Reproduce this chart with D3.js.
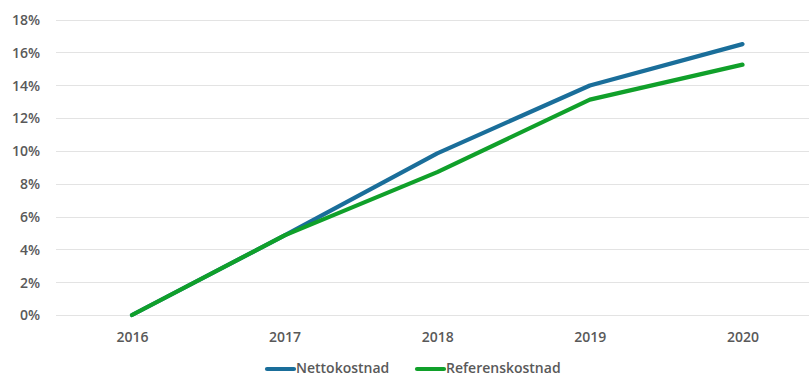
<!DOCTYPE html>
<html><head><meta charset="utf-8">
<script src="https://cdn.jsdelivr.net/npm/d3@7"></script>
<style>body{margin:0;background:#fff}svg{display:block}text{font-family:"Open Sans","Liberation Sans",sans-serif;fill:#595959;font-weight:600}</style>
</head><body><svg id="c" width="809" height="376"></svg>
<script>
const years = ["2016","2017","2018","2019","2020"];
const netto = [0, 4.85, 9.85, 13.98, 16.5];
const referens = [0, 4.85, 8.7, 13.12, 15.25];
const yTicks = [0,2,4,6,8,10,12,14,16,18];
const seriesNames = ["Nettokostnad","Referenskostnad"];
const colors = ["#1A6E9A","#10A02A"];

const svg = d3.select("#c");
const x = d3.scalePoint().domain(years).range([132, 742.5]);
const y = d3.scaleLinear().domain([0,18]).range([315, 19.5]);

const grid = svg.append("g");
grid.selectAll("line").data(yTicks).join("line")
  .attr("x1",56).attr("x2",809)
  .attr("y1",d=>Math.round(y(d))+0.5).attr("y2",d=>Math.round(y(d))+0.5)
  .attr("stroke","#e3e3e3").attr("stroke-width",1);

const yAxis = d3.axisLeft(y).tickValues(yTicks).tickFormat(d=>d+"%").tickSize(0).tickPadding(0);
const ya = svg.append("g").attr("transform","translate(40,0)").call(yAxis);
ya.select(".domain").remove();
ya.selectAll("text").attr("font-size",14).attr("fill","#595959").style("font-family","'Open Sans',sans-serif").style("font-weight",600).attr("dy","0.35em");

const xAxis = d3.axisBottom(x).tickSize(0).tickPadding(0);
const xa = svg.append("g").attr("transform","translate(0,337)").call(xAxis);
xa.select(".domain").remove();
xa.selectAll("text").attr("font-size",14).attr("fill","#595959").attr("dy","0.35em").style("font-family","'Open Sans',sans-serif").style("font-weight",600);

const line = d3.line().x((d,i)=>x(years[i])).y(d=>y(d));
[netto, referens].forEach((s,k)=>{
  svg.append("path").datum(s).attr("d",line).attr("fill","none")
    .attr("stroke",colors[k]).attr("stroke-width",4.2).attr("stroke-linecap","round").attr("stroke-linejoin","round");
});

const lg = svg.append("g");
const legX = [266, 416];
seriesNames.forEach((n,k)=>{
  lg.append("line").attr("x1",legX[k]+1).attr("x2",legX[k]+28).attr("y1",369).attr("y2",369)
    .attr("stroke",colors[k]).attr("stroke-width",4.2).attr("stroke-linecap","round");
  lg.append("text").attr("x",legX[k]+30).attr("y",368.5).attr("dy","0.35em").attr("font-size",14).text(n);
});
</script></body></html>
